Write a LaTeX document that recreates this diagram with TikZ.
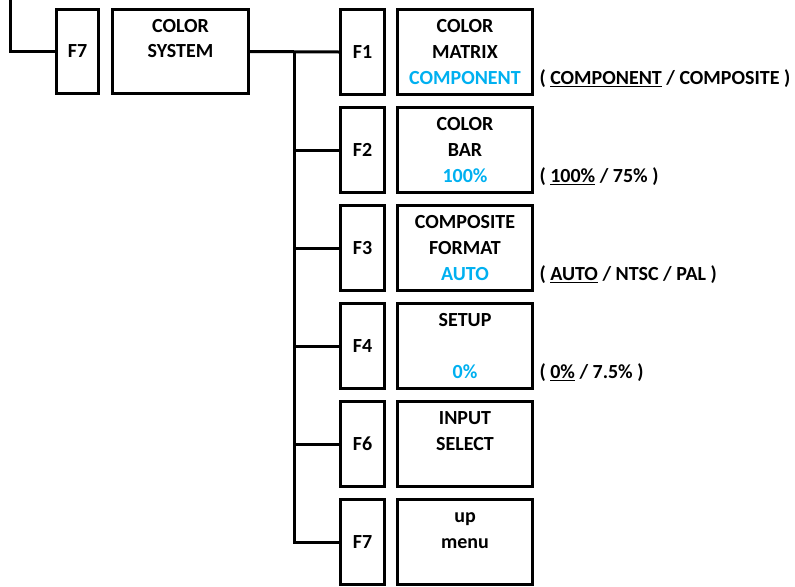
\documentclass[tikz,border=0pt]{standalone}
\usepackage{fontspec}
\setmainfont{Carlito}
\definecolor{valblue}{RGB}{0,176,240}
\tikzset{
    fkey/.style={draw, minimum width=33pt, minimum height=63.75pt, inner sep=0pt, font=\fontsize{15}{19.5}\selectfont\bfseries},
    menubox/.style={draw, minimum width=101.25pt, minimum height=63.75pt, inner sep=0pt},
    txt/.style={anchor=base, inner sep=0pt, font=\fontsize{15}{19.5}\selectfont\bfseries},
    note/.style={anchor=base west, inner sep=0pt, font=\fontsize{15}{19.5}\selectfont\bfseries}
}
\begin{document}
\begin{tikzpicture}[x=0.75pt, y=-0.75pt, line width=2.25pt]
    \clip (0,0) rectangle (795,586);
    % Parent menu
    \coordinate (c0) at (10,0);
    \node[fkey, minimum width=31.5pt, minimum height=63pt] (k0) at (77.5,51.5) {F7};
    \node[menubox, minimum width=102pt, minimum height=63pt] (m0) at (180.5,51.5) {};
    \node[txt] (m0a) at (180.5,32) {COLOR};
    \node[txt] (m0b) at (180.5,57) {SYSTEM};
    \draw (c0) |- (k0.west);
    % Sub menu keys and boxes
    \foreach \i/\k/\y in {1/F1/52,2/F2/150,3/F3/248,4/F4/346,5/F6/444,6/F7/542} {
        \node[fkey] (k\i) at (362.5,\y) {\k};
        \node[menubox] (m\i) at (465,\y) {};
    }
    % Box titles
    \foreach \i/\a/\b in {1/COLOR/MATRIX,2/COLOR/BAR,3/COMPOSITE/FORMAT,4/SETUP/,5/INPUT/SELECT,6/up/menu} {
        \node[txt] (m\i a) at ([yshift=-18.375pt]m\i.north) {\a};
        \node[txt] (m\i b) at ([yshift=-37.875pt]m\i.north) {\b};
    }
    % Current values
    \foreach \i/\v in {1/COMPONENT,2/100\%,3/AUTO,4/0\%} {
        \node[txt, valblue] (v\i) at ([yshift=-57.375pt]m\i.north) {\v};
    }
    % Choices
    \node[note] (n1) at ([xshift=3pt,yshift=-24.4pt]m1.east) {( \underline{COMPONENT} / COMPOSITE )};
    \node[note] (n2) at ([xshift=3pt,yshift=-24.4pt]m2.east) {( \underline{100\%} / 75\% )};
    \node[note] (n3) at ([xshift=3pt,yshift=-24.4pt]m3.east) {( \underline{AUTO} / NTSC / PAL )};
    \node[note] (n4) at ([xshift=3pt,yshift=-24.4pt]m4.east) {( \underline{0\%} / 7.5\% )};
    % Tree lines
    \coordinate (trunk) at (294,52);
    \draw (m0.east) -- (k1.west);
    \draw (trunk) |- (k6.west);
    \foreach \i in {2,...,5} {
        \draw (trunk |- k\i.west) -- (k\i.west);
    }
\end{tikzpicture}
\end{document}
